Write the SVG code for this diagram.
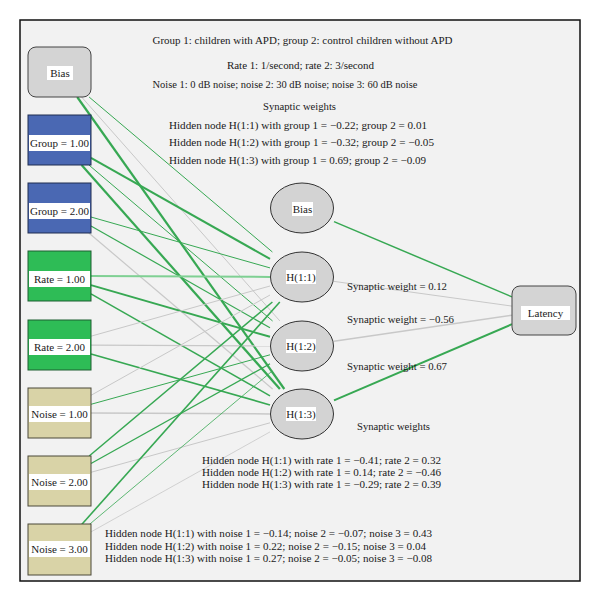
<svg xmlns="http://www.w3.org/2000/svg" width="600" height="602" viewBox="0 0 600 602">
<style>
text{font-family:"Liberation Serif","Times New Roman",serif;font-size:11px;fill:#1a1a1a}
.lbl{font-size:11px;text-anchor:middle}
.strip{fill:#ffffff}
.e line{fill:none;stroke-linecap:butt}
.g{stroke:#37a853}
.lg{stroke:#7fd093}
.gy{stroke:#c8c8c8}
.hid{fill:#d3d3d3;stroke:#333;stroke-width:1}
.bias{fill:#d4d4d4;stroke:#444;stroke-width:1}
.grp{fill:#4a68b3;stroke:#1f2c50;stroke-width:1}
.rate{fill:#2ebc56;stroke:#1c5e30;stroke-width:1}
.noise{fill:#d9d3a7;stroke:#4b4838;stroke-width:1}
</style>
<rect x="0" y="0" width="600" height="602" fill="#ffffff"/>
<rect x="20" y="20" width="560" height="561" fill="#f2f2f2" stroke="#111" stroke-width="1.5"/>

<g id="connectors" class="e">
<line class="g" stroke-width="1" x1="89.1" y1="97" x2="272.4" y2="252"/>
<line class="gy" stroke-width="1" x1="81.6" y1="97" x2="279.9" y2="321"/>
<line class="g" stroke-width="2.2" x1="77.2" y1="97" x2="284.3" y2="389"/>
<line class="g" stroke-width="2" x1="91" y1="157.8" x2="270" y2="258.9"/>
<line class="g" stroke-width="1" x1="88.9" y1="165" x2="272.6" y2="321"/>
<line class="g" stroke-width="2.2" x1="81.6" y1="165" x2="279.9" y2="389"/>
<line class="g" stroke-width="1" x1="91" y1="217" x2="270" y2="267.9"/>
<line class="g" stroke-width="1.2" x1="91" y1="225.9" x2="270" y2="327.8"/>
<line class="gy" stroke-width="1.2" x1="88.9" y1="233" x2="272.6" y2="389"/>
<line class="lg" stroke-width="2" x1="91" y1="276.1" x2="270" y2="276.9"/>
<line class="g" stroke-width="2" x1="91" y1="285.1" x2="270" y2="336.8"/>
<line class="g" stroke-width="1.5" x1="91" y1="293.9" x2="270" y2="395.8"/>
<line class="gy" stroke-width="1" x1="91" y1="336.2" x2="270" y2="286"/>
<line class="gy" stroke-width="1.2" x1="91" y1="345.1" x2="270" y2="345.9"/>
<line class="g" stroke-width="1.6" x1="91" y1="354" x2="270" y2="404.9"/>
<line class="gy" stroke-width="1" x1="91" y1="395.3" x2="270" y2="295"/>
<line class="g" stroke-width="1" x1="91" y1="404.3" x2="270" y2="354.8"/>
<line class="gy" stroke-width="1.5" x1="91" y1="413.1" x2="270" y2="413.9"/>
<line class="g" stroke-width="1.5" x1="89.2" y1="456" x2="272.4" y2="302"/>
<line class="g" stroke-width="1.3" x1="91" y1="463.5" x2="270" y2="363.8"/>
<line class="gy" stroke-width="1" x1="91" y1="472.3" x2="270" y2="422.8"/>
<line class="g" stroke-width="1.6" x1="81.7" y1="524.5" x2="279.8" y2="302"/>
<line class="g" stroke-width="0.8" x1="89.3" y1="524.5" x2="272.2" y2="371"/>
<line class="gy" stroke-width="0.8" x1="91" y1="531.9" x2="270" y2="431.9"/>
<line class="g" stroke-width="1.5" x1="334" y1="221.6" x2="512" y2="296.9"/>
<line class="gy" stroke-width="1" x1="334" y1="281.4" x2="512" y2="306.1"/>
<line class="gy" stroke-width="1.5" x1="334" y1="341.3" x2="512" y2="315.2"/>
<line class="g" stroke-width="2" x1="334" y1="400.3" x2="512" y2="324.2"/>
</g>

<g id="in-bias"><rect class="bias" x="28" y="47" width="63" height="50" rx="8"/><rect class="strip" x="47" y="66" width="26" height="14"/><text class="lbl" x="60" y="77">Bias</text></g>
<g id="in-group1"><rect class="grp" x="28" y="115" width="63" height="50"/><rect class="strip" x="29" y="135" width="61" height="16"/><text class="lbl" x="59.5" y="147">Group = 1.00</text></g>
<g id="in-group2"><rect class="grp" x="28" y="183" width="63" height="50"/><rect class="strip" x="29" y="203" width="61" height="16"/><text class="lbl" x="59.5" y="215">Group = 2.00</text></g>
<g id="in-rate1"><rect class="rate" x="28" y="251" width="63" height="50"/><rect class="strip" x="29" y="271" width="61" height="16"/><text class="lbl" x="59.5" y="283">Rate = 1.00</text></g>
<g id="in-rate2"><rect class="rate" x="28" y="320" width="63" height="50"/><rect class="strip" x="29" y="339" width="61" height="16"/><text class="lbl" x="59.5" y="351">Rate = 2.00</text></g>
<g id="in-noise1"><rect class="noise" x="28" y="388" width="63" height="50"/><rect class="strip" x="29" y="406" width="61" height="16"/><text class="lbl" x="59.5" y="418">Noise = 1.00</text></g>
<g id="in-noise2"><rect class="noise" x="28" y="456" width="63" height="50"/><rect class="strip" x="29" y="474" width="61" height="16"/><text class="lbl" x="59.5" y="486">Noise = 2.00</text></g>
<g id="in-noise3"><rect class="noise" x="28" y="524" width="63" height="51"/><rect class="strip" x="29" y="541" width="61" height="16"/><text class="lbl" x="59.5" y="553">Noise = 3.00</text></g>

<g id="h-bias"><ellipse class="hid" cx="302" cy="208" rx="31.5" ry="25"/><rect class="strip" x="292" y="202" width="21" height="14"/><text class="lbl" x="302.5" y="213">Bias</text></g>
<g id="h-1"><ellipse class="hid" cx="302" cy="277" rx="31.5" ry="25"/><rect class="strip" x="286" y="270" width="30" height="14"/><text class="lbl" x="301" y="281">H(1:1)</text></g>
<g id="h-2"><ellipse class="hid" cx="302" cy="346" rx="31.5" ry="25"/><rect class="strip" x="286" y="339" width="30" height="14"/><text class="lbl" x="301" y="350">H(1:2)</text></g>
<g id="h-3"><ellipse class="hid" cx="302" cy="414" rx="31.5" ry="25"/><rect class="strip" x="286" y="407" width="30" height="14"/><text class="lbl" x="301" y="418">H(1:3)</text></g>

<g id="out-latency"><rect class="bias" x="512" y="286" width="64" height="49" rx="8"/><rect class="strip" x="521" y="306" width="49" height="14"/><text class="lbl" x="545.5" y="317">Latency</text></g>

<g id="notes">
<text x="152.5" y="44" textLength="300" lengthAdjust="spacingAndGlyphs">Group 1: children with APD; group 2: control children without APD</text>
<text x="227" y="69" textLength="147" lengthAdjust="spacing">Rate 1: 1/second; rate 2: 3/second</text>
<text x="152.5" y="88" textLength="265" lengthAdjust="spacingAndGlyphs">Noise 1: 0 dB noise; noise 2: 30 dB noise; noise 3: 60 dB noise</text>
<text x="263" y="110" textLength="73" lengthAdjust="spacingAndGlyphs">Synaptic weights</text>
<text x="169" y="129" textLength="258" lengthAdjust="spacingAndGlyphs">Hidden node H(1:1) with group 1 = −0.22; group 2 = 0.01</text>
<text x="169" y="146" textLength="265" lengthAdjust="spacingAndGlyphs">Hidden node H(1:2) with group 1 = −0.32; group 2 = −0.05</text>
<text x="169" y="164" textLength="257" lengthAdjust="spacingAndGlyphs">Hidden node H(1:3) with group 1 = 0.69; group 2 = −0.09</text>
<text x="347" y="290" textLength="100" lengthAdjust="spacingAndGlyphs">Synaptic weight = 0.12</text>
<text x="347" y="323" textLength="107" lengthAdjust="spacingAndGlyphs">Synaptic weight = −0.56</text>
<text x="347" y="370" textLength="100" lengthAdjust="spacingAndGlyphs">Synaptic weight = 0.67</text>
<text x="357" y="430" textLength="73" lengthAdjust="spacingAndGlyphs">Synaptic weights</text>
<text x="202" y="464" textLength="239" lengthAdjust="spacingAndGlyphs">Hidden node H(1:1) with rate 1 = −0.41; rate 2 = 0.32</text>
<text x="202" y="476" textLength="239" lengthAdjust="spacingAndGlyphs">Hidden node H(1:2) with rate 1 = 0.14; rate 2 = −0.46</text>
<text x="202" y="488" textLength="239" lengthAdjust="spacingAndGlyphs">Hidden node H(1:3) with rate 1 = −0.29; rate 2 = 0.39</text>
<text x="105" y="537" textLength="327" lengthAdjust="spacingAndGlyphs">Hidden node H(1:1) with noise 1 = −0.14; noise 2 = −0.07; noise 3 = 0.43</text>
<text x="105" y="550" textLength="321" lengthAdjust="spacingAndGlyphs">Hidden node H(1:2) with noise 1 = 0.22; noise 2 = −0.15; noise 3 = 0.04</text>
<text x="105" y="562" textLength="327" lengthAdjust="spacingAndGlyphs">Hidden node H(1:3) with noise 1 = 0.27; noise 2 = −0.05; noise 3 = −0.08</text>
</g>
</svg>
